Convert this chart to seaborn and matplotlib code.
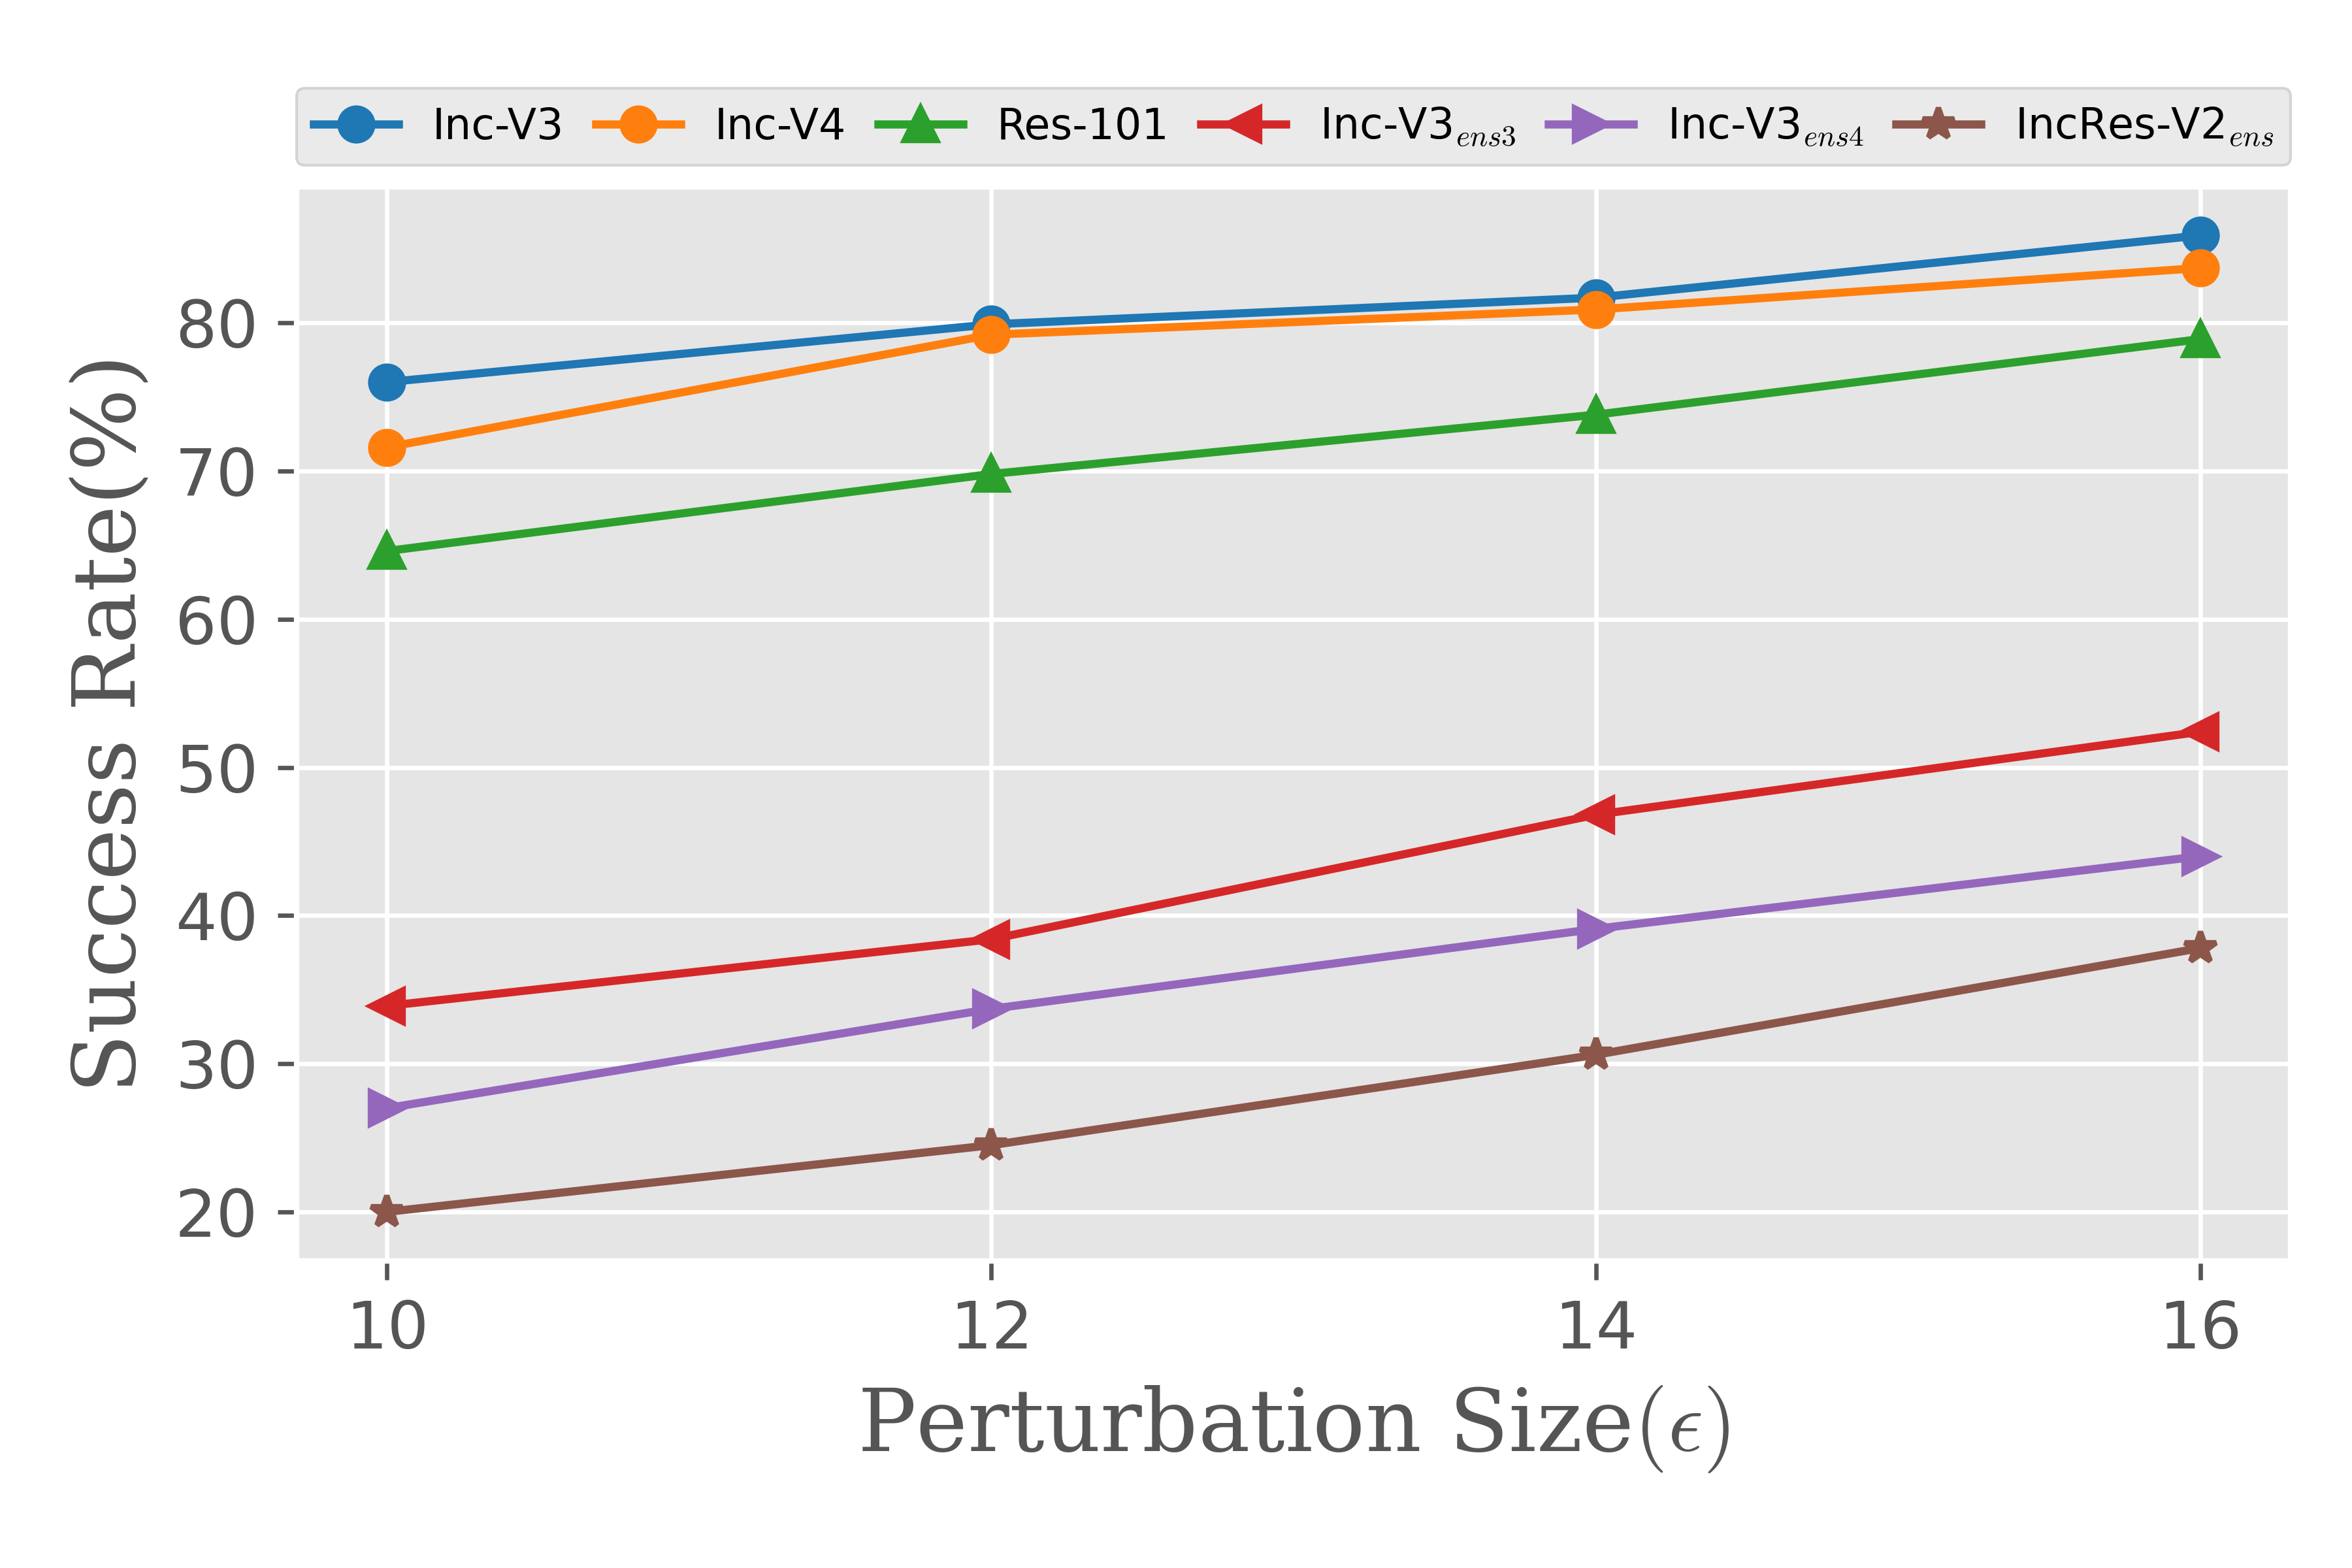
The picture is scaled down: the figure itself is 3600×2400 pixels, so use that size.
import matplotlib
matplotlib.use("Agg")
import matplotlib.pyplot as plt
import seaborn as sns
import pandas as pd

# ---- data ----
eps = [10, 12, 14, 16]
inc_v3 = [76.0, 79.9, 81.7, 85.9]
inc_v4 = [71.6, 79.2, 80.9, 83.7]
res_101 = [64.6, 69.8, 73.8, 78.9]
inc_v3_ens3 = [33.9, 38.4, 46.8, 52.4]
inc_v3_ens4 = [27.0, 33.7, 39.1, 44.0]
incres_v2_ens = [20.0, 24.5, 30.6, 37.8]

labels = ["Inc-V3", "Inc-V4", "Res-101", r"Inc-V3$_{ens3}$",
          r"Inc-V3$_{ens4}$", r"IncRes-V2$_{ens}$"]
series = [inc_v3, inc_v4, res_101, inc_v3_ens3, inc_v3_ens4, incres_v2_ens]
markers = ["o", "o", "^", "<", ">", "*"]
colors = sns.color_palette("tab10", 6)

plt.style.use("ggplot")
plt.rcParams["mathtext.fontset"] = "cm"
plt.rcParams["font.family"] = ["DejaVu Sans"]

fig, ax = plt.subplots(figsize=(6, 4), dpi=600)
fig.subplots_adjust(left=0.126, right=0.974, bottom=0.196, top=0.881)

for vals, lbl, mk, col in zip(series, labels, markers, colors):
    df = pd.DataFrame({"eps": eps, "rate": vals})
    sns.lineplot(data=df, x="eps", y="rate", ax=ax, color=col, marker=mk,
                 markersize=6, markeredgecolor=col, markeredgewidth=1.0,
                 linewidth=1.5, label=lbl)

ax.set_xticks(eps)
ax.tick_params(axis="both", labelsize=12, colors="#555555", direction="out", length=3.5)
ax.set_xlabel(r"Perturbation Size$(\epsilon)$", family="DejaVu Serif",
              fontsize=16, color="#555555")
ax.set_ylabel("Success Rate(%)", family="DejaVu Serif", fontsize=16, color="#555555")

ax.legend(bbox_to_anchor=(0., 1.02, 1., .102), loc="lower left", ncol=6,
          mode="expand", borderaxespad=0., fontsize=7.8)

fig.savefig("out.png", dpi=600)
